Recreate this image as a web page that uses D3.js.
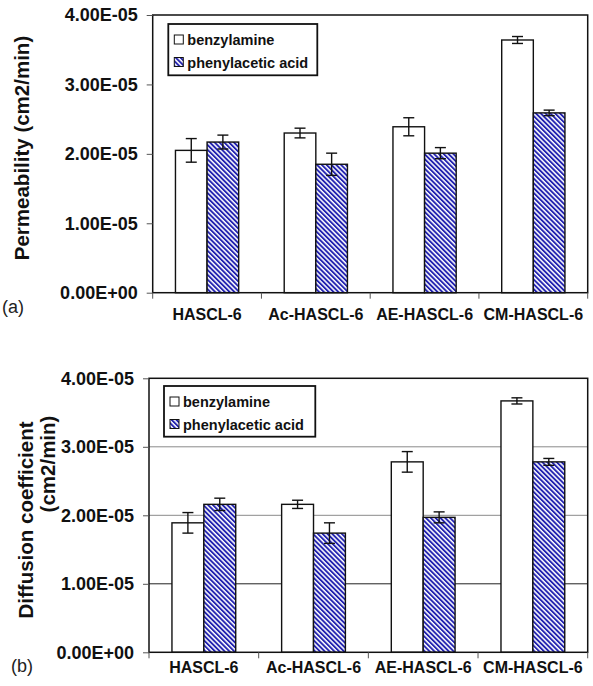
<!DOCTYPE html>
<html>
<head>
<meta charset="utf-8">
<script src="https://cdn.jsdelivr.net/npm/d3@7"></script>
<style>
  body { margin: 0; background: #fff; }
  svg { display: block; font-family: "Liberation Sans", Arial, sans-serif; }
</style>
</head>
<body>
<div id="chart"></div>
<script>
// categories / series
const categories = ["HASCL-6", "Ac-HASCL-6", "AE-HASCL-6", "CM-HASCL-6"];
const seriesNames = ["benzylamine", "phenylacetic acid"];

// panel (a) permeability, cm2/min
const permBenzyl = [2.05e-5, 2.30e-5, 2.39e-5, 3.64e-5];
const permBenzylErr = [0.17e-5, 0.07e-5, 0.13e-5, 0.05e-5];
const permPhenyl = [2.17e-5, 1.85e-5, 2.01e-5, 2.59e-5];
const permPhenylErr = [0.10e-5, 0.16e-5, 0.08e-5, 0.04e-5];

// panel (b) diffusion coefficient, cm2/min
const diffBenzyl = [1.89e-5, 2.16e-5, 2.78e-5, 3.67e-5];
const diffBenzylErr = [0.15e-5, 0.06e-5, 0.15e-5, 0.045e-5];
const diffPhenyl = [2.16e-5, 1.74e-5, 1.97e-5, 2.78e-5];
const diffPhenylErr = [0.09e-5, 0.15e-5, 0.08e-5, 0.05e-5];

// axis ticks
const yTicks = [0, 1e-5, 2e-5, 3e-5, 4e-5];
const yTickLabels = ["0.00E+00", "1.00E-05", "2.00E-05", "3.00E-05", "4.00E-05"];
const gridTicks = [1e-5, 2e-5, 3e-5];

const blue = "#2222b0";

const svg = d3.select("#chart").append("svg")
    .attr("width", 593)
    .attr("height", 686);

// hatch pattern for phenylacetic acid
const pat = svg.append("defs").append("pattern")
    .attr("id", "hatch")
    .attr("patternUnits", "userSpaceOnUse")
    .attr("width", 3.4)
    .attr("height", 3.4)
    .attr("patternTransform", "rotate(-45)");
pat.append("rect").attr("width", 3.4).attr("height", 3.4).attr("fill", "#fff");
pat.append("rect").attr("width", 1.9).attr("height", 3.4).attr("fill", blue);

const fills = ["#fff", "url(#hatch)"];

function drawPanel(cfg) {
    const rows = categories.map((c, i) => ({
        cat: c,
        vals: cfg.values.map((v, s) => ({ series: seriesNames[s], value: v[i], err: cfg.errors[s][i], s: s }))
    }));

    const y = d3.scaleLinear().domain([0, 4e-5]).range([cfg.bottom, cfg.top]);
    const x0 = d3.scaleBand().domain(categories).range([cfg.left, cfg.right]).padding(0);
    const x1 = d3.scaleBand().domain(seriesNames).range([0, x0.bandwidth()])
        .paddingInner(0).paddingOuter(0.72);

    const g = svg.append("g");

    // gridlines (panel b only)
    if (cfg.grid) {
        g.selectAll("line.grid")
            .data(gridTicks)
            .enter()
            .append("line")
            .attr("class", "grid")
            .attr("x1", cfg.left).attr("x2", cfg.right)
            .attr("y1", d => y(d)).attr("y2", d => y(d))
            .attr("stroke", d => d === 1e-5 ? "#222" : "#8a8a8a")
            .attr("stroke-width", 1);
    }

    // bars
    const groups = g.selectAll("g.cat")
        .data(rows)
        .enter()
        .append("g")
        .attr("transform", d => `translate(${x0(d.cat)},0)`);

    groups.selectAll("rect")
        .data(d => d.vals)
        .enter()
        .append("rect")
        .attr("x", d => x1(d.series))
        .attr("y", d => y(d.value))
        .attr("width", x1.bandwidth())
        .attr("height", d => y(0) - y(d.value))
        .attr("fill", d => fills[d.s])
        .attr("stroke", "#111")
        .attr("stroke-width", 1.4);

    // error bars
    const eb = groups.selectAll("g.err")
        .data(d => d.vals)
        .enter()
        .append("g")
        .attr("stroke", "#111")
        .attr("stroke-width", 1.4);
    const cx = d => x1(d.series) + x1.bandwidth() / 2;
    eb.append("line")
        .attr("x1", cx).attr("x2", cx)
        .attr("y1", d => y(d.value + d.err)).attr("y2", d => y(d.value - d.err));
    [1, -1].forEach(sign => {
        eb.append("line")
            .attr("x1", d => cx(d) - 5.5).attr("x2", d => cx(d) + 5.5)
            .attr("y1", d => y(d.value + sign * d.err)).attr("y2", d => y(d.value + sign * d.err));
    });

    // plot frame
    g.append("rect")
        .attr("x", cfg.left).attr("y", cfg.top)
        .attr("width", cfg.right - cfg.left).attr("height", cfg.bottom - cfg.top)
        .attr("fill", "none").attr("stroke", "#111").attr("stroke-width", 1.5);

    // y axis
    const yAxis = g.append("g")
        .attr("transform", `translate(${cfg.left},0)`)
        .call(d3.axisLeft(y).tickValues(yTicks).tickFormat((d, i) => yTickLabels[i]).tickSize(6).tickPadding(9));
    yAxis.select(".domain").remove();
    yAxis.selectAll("line").attr("stroke", "#555");
    yAxis.selectAll("text")
        .attr("font-family", "Liberation Sans, Arial, sans-serif")
        .attr("font-size", 18).attr("font-weight", "bold").attr("fill", "#111");

    // x boundary ticks
    const bounds = categories.map(c => x0(c)).concat([cfg.right]);
    g.selectAll("line.xt")
        .data(bounds)
        .enter()
        .append("line")
        .attr("x1", d => d).attr("x2", d => d)
        .attr("y1", cfg.bottom).attr("y2", cfg.bottom + 6)
        .attr("stroke", "#555");

    // x labels
    const xAxis = g.append("g")
        .attr("transform", `translate(0,${cfg.bottom})`)
        .call(d3.axisBottom(x0).tickSize(0).tickPadding(cfg.labelPad));
    xAxis.select(".domain").remove();
    xAxis.selectAll("text")
        .attr("font-family", "Liberation Sans, Arial, sans-serif")
        .attr("font-size", 16).attr("font-weight", "bold").attr("fill", "#111");

    // axis title
    cfg.titles.forEach(t => {
        g.append("text")
            .attr("transform", `translate(${t.x},${t.y}) rotate(-90)`)
            .attr("text-anchor", "middle")
            .attr("font-size", 20.5).attr("font-weight", "bold").attr("fill", "#111")
            .text(t.text);
    });

    // panel letter
    g.append("text")
        .attr("x", cfg.letter.x).attr("y", cfg.letter.y)
        .attr("font-size", 18).attr("fill", "#222")
        .text(cfg.letter.text);

    // legend
    const lg = g.append("g").attr("transform", `translate(${cfg.legend.x},${cfg.legend.y})`);
    lg.append("rect")
        .attr("width", cfg.legend.w).attr("height", cfg.legend.h)
        .attr("fill", "#fff").attr("stroke", "#111").attr("stroke-width", 1.8);
    const items = lg.selectAll("g.item")
        .data(seriesNames)
        .enter()
        .append("g")
        .attr("transform", (d, i) => `translate(6,${11 + i * 22.5})`);
    items.append("rect")
        .attr("width", 9).attr("height", 9)
        .attr("fill", (d, i) => fills[i])
        .attr("stroke", "#111").attr("stroke-width", 1);
    items.append("text")
        .attr("x", 13).attr("y", 10)
        .attr("font-size", 14.5).attr("font-weight", "bold").attr("fill", "#111")
        .text(d => d);
}

drawPanel({
    values: [permBenzyl, permPhenyl],
    errors: [permBenzylErr, permPhenylErr],
    left: 152.7, right: 587.7, top: 15, bottom: 292.7,
    labelPad: 16, grid: false,
    titles: [{ text: "Permeability (cm2/min)", x: 28.5, y: 148 }],
    letter: { text: "(a)", x: 2, y: 313 },
    legend: { x: 168.3, y: 24, w: 149, h: 51.3 }
});

drawPanel({
    values: [diffBenzyl, diffPhenyl],
    errors: [diffBenzylErr, diffPhenylErr],
    left: 149, right: 587.7, top: 378.3, bottom: 652.3,
    labelPad: 9, grid: true,
    titles: [
        { text: "Diffusion coefficient", x: 33, y: 520 },
        { text: "(cm2/min)", x: 55, y: 464 }
    ],
    letter: { text: "(b)", x: 11, y: 672 },
    legend: { x: 164, y: 386, w: 151.3, h: 50.7 }
});
</script>
</body>
</html>
